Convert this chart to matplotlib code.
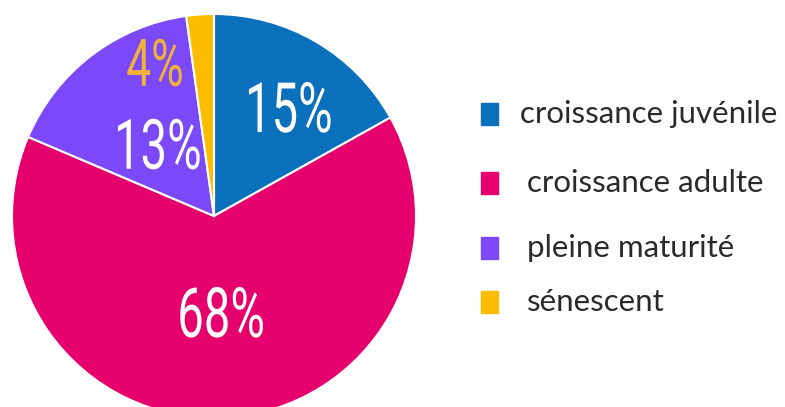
import matplotlib
matplotlib.use('Agg')
import matplotlib.pyplot as plt
from matplotlib.patches import Rectangle
from matplotlib import patheffects
from matplotlib.transforms import Affine2D
import numpy as np

# %% data
categories = ['croissance juvénile', 'croissance adulte', 'pleine maturité', 'sénescent']
shares = [16.9, 64.5, 16.4, 2.2]          # wedge sizes as drawn
pct_labels = ['15%', '68%', '13%', '4%']  # printed labels
colors = ['#0b70bb', '#e6006e', '#7b49f7', '#fcbc00']
label_colors = ['white', 'white', 'white', '#f2b23a']

# label placement (angle in deg, radius as fraction, font size)
label_pos = [(54, 0.63, 50), (-86, 0.506, 50), (130.3, 0.43, 50), (111.7, 0.79, 47)]


class Squeeze(patheffects.AbstractPathEffect):
    """narrow the glyphs horizontally around the text anchor (condensed look)"""
    def __init__(self, txt, sx):
        super().__init__()
        self.txt = txt
        self.sx = sx

    def draw_path(self, renderer, gc, tpath, affine, rgbFace=None):
        x, y = self.txt.get_transform().transform(self.txt.get_position())
        tr = affine + Affine2D().translate(-x, -y).scale(self.sx, 1).translate(x, y)
        renderer.draw_path(gc, tpath, tr, rgbFace)


W, H = 785, 407
fig = plt.figure(figsize=(W / 100, H / 100), dpi=100)

cx, cy, r = 214, 216, 202
ax = fig.add_axes([(cx - r) / W, (H - cy - r) / H, 2 * r / W, 2 * r / H])
wedges, _ = ax.pie(shares, colors=colors, startangle=90, counterclock=False,
                   radius=1, wedgeprops=dict(edgecolor='white', linewidth=1.5))
ax.set_xlim(-1, 1)
ax.set_ylim(-1, 1)
ax.set_aspect('equal')
ax.axis('off')

for lab, col, (ang, rr, fs) in zip(pct_labels, label_colors, label_pos):
    t = np.deg2rad(ang)
    txt = ax.text(rr * np.cos(t), rr * np.sin(t), lab, color=col,
                  family='Roboto', fontsize=fs, ha='center', va='center')
    txt.set_path_effects([Squeeze(txt, 0.68)])

# legend drawn by hand
rows_y = [114, 183, 248, 302]
text_x = [520, 527, 527, 527]
for cat, col, yy, tx in zip(categories, colors, rows_y, text_x):
    fig.patches.append(Rectangle((481 / W, (H - yy - 11) / H), 17 / W, 22 / H,
                                 transform=fig.transFigure, color=col))
    fig.text(tx / W, (H - yy) / H, cat, fontsize=22.5, family='Lato',
             color='#2a2a2a', va='center', ha='left')

fig.savefig('out.png', dpi=100)
